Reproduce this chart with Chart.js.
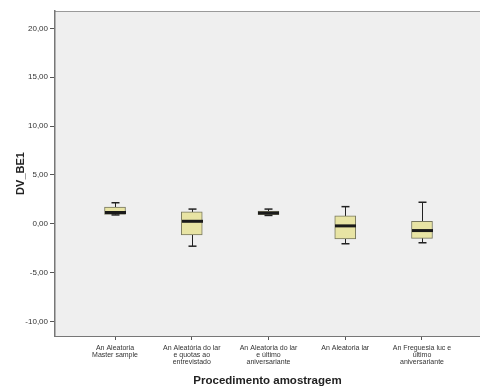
<!DOCTYPE html>
<html><head><meta charset="utf-8">
<script src="https://cdn.jsdelivr.net/npm/chart.js@4/dist/chart.umd.min.js"></script>
<style>html,body{margin:0;padding:0;background:#fff}#wrap{width:480px;height:390px;position:relative}</style>
</head><body><div id="wrap"><canvas id="c" width="480" height="390"></canvas></div>
<script>
const categories = [
  ["An Aleatoria","Master sample"],
  ["An Aleatória do lar","e quotas ao","entrevistado"],
  ["An Aleatoria do lar","e último","aniversariante"],
  ["An Aleatoria lar"],
  ["An Freguesia luc e","último","aniversariante"]
];
const whiskerMin = [0.9, -2.3, 0.85, -2.05, -1.95];
const q1         = [0.95, -1.15, 0.92, -1.55, -1.5];
const median     = [1.15, 0.25, 1.1, -0.22, -0.7];
const q3         = [1.7, 1.23, 1.3, 0.8, 0.25];
const whiskerMax = [2.15, 1.5, 1.5, 1.75, 2.2];
const yTicks = [-10, -5, 0, 5, 10, 15, 20];

const FONT = "'Liberation Sans', Arial, sans-serif";
const BOX_W = 21, CAP_W = 8;

const boxExtras = {
  id: 'boxExtras',
  beforeDraw(chart) {
    const {ctx, chartArea: a} = chart;
    ctx.save();
    ctx.fillStyle = '#efefef';
    ctx.fillRect(a.left, a.top, a.right - a.left, a.bottom - a.top);
    ctx.strokeStyle = '#9a9a9a';
    ctx.lineWidth = 1;
    ctx.beginPath();
    ctx.moveTo(a.left, a.top + 0.5);
    ctx.lineTo(a.right, a.top + 0.5);
    ctx.stroke();
    ctx.restore();
  },
  beforeDatasetsDraw(chart) {
    const {ctx, scales: {x, y}} = chart;
    ctx.save();
    ctx.strokeStyle = '#222';
    ctx.lineWidth = 1;
    categories.forEach((c, i) => {
      const px = Math.round(x.getPixelForValue(i + 1)) + 0.5;
      ctx.beginPath();
      ctx.moveTo(px, y.getPixelForValue(whiskerMax[i]));
      ctx.lineTo(px, y.getPixelForValue(whiskerMin[i]));
      ctx.stroke();
    });
    ctx.restore();
  },
  afterDatasetsDraw(chart) {
    const {ctx, scales: {x, y}} = chart;
    ctx.save();
    categories.forEach((c, i) => {
      const px = Math.round(x.getPixelForValue(i + 1)) + 0.5;
      ctx.strokeStyle = '#1a1a1a';
      ctx.lineWidth = 3;
      ctx.beginPath();
      const my = y.getPixelForValue(median[i]);
      ctx.moveTo(px - BOX_W / 2, my);
      ctx.lineTo(px + BOX_W / 2, my);
      ctx.stroke();
      ctx.lineWidth = 1.5;
      ctx.strokeStyle = '#222';
      [whiskerMax[i], whiskerMin[i]].forEach(v => {
        const cy = y.getPixelForValue(v);
        ctx.beginPath();
        ctx.moveTo(px - CAP_W / 2, cy);
        ctx.lineTo(px + CAP_W / 2, cy);
        ctx.stroke();
      });
    });
    ctx.restore();
  }
};

new Chart(document.getElementById('c'), {
  type: 'bar',
  data: {
    datasets: [{
      data: categories.map((c, i) => ({x: i + 1, y: [q1[i], q3[i]]})),
      backgroundColor: '#e8e4a4',
      borderColor: '#77775e',
      borderWidth: 1,
      borderSkipped: false,
      barThickness: BOX_W
    }]
  },
  options: {
    responsive: false,
    animation: false,
    layout: {padding: {top: 11, right: 0, left: 0, bottom: 0}},
    plugins: {legend: {display: false}, tooltip: {enabled: false}},
    scales: {
      x: {
        type: 'linear',
        offset: false,
        min: 0.218,
        max: 5.756,
        afterFit: s => { s.height = 54; },
        afterBuildTicks: s => { s.ticks = categories.map((c, i) => ({value: i + 1})); },
        ticks: {
          autoSkip: false,
          maxRotation: 0,
          padding: 5,
          color: '#333',
          font: {family: FONT, size: 7, lineHeight: 1.0},
          callback: v => categories[v - 1]
        },
        grid: {drawOnChartArea: false, offset: false, tickLength: 4, color: '#555'},
        border: {display: true, color: '#777', width: 1},
        title: {
          display: true,
          text: 'Procedimento amostragem',
          color: '#222',
          font: {family: FONT, size: 11.5, weight: 'bold', lineHeight: 1.2},
          padding: {top: 0, bottom: 2}
        }
      },
      y: {
        type: 'linear',
        min: -11.5,
        max: 21.79,
        afterFit: s => { s.width = 55; },
        afterBuildTicks: s => { s.ticks = yTicks.map(v => ({value: v})); },
        ticks: {
          padding: 2,
          color: '#333',
          font: {family: FONT, size: 8},
          callback: v => v.toFixed(2).replace('.', ',')
        },
        grid: {drawOnChartArea: false, tickLength: 5, color: '#555'},
        border: {display: true, color: '#777', width: 1.5},
        title: {
          display: true,
          text: 'DV_BE1',
          color: '#222',
          font: {family: FONT, size: 11, weight: 'bold', lineHeight: 1.2},
          padding: {top: 14, bottom: 0}
        }
      }
    }
  },
  plugins: [boxExtras]
});
</script>
</body></html>
